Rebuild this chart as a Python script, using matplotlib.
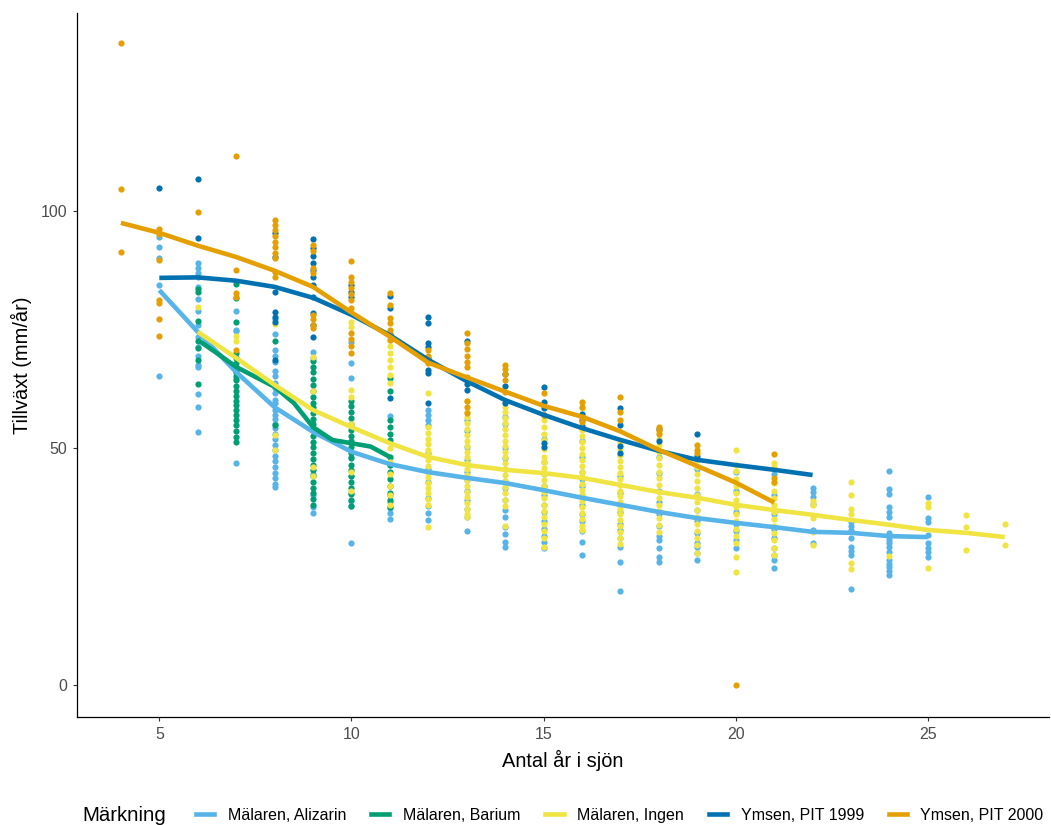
import matplotlib
matplotlib.use('Agg')
import matplotlib.pyplot as plt
from matplotlib.lines import Line2D

plt.rcParams['font.family'] = ['Liberation Sans', 'DejaVu Sans']

# grupper och färger
groups = ['Mälaren, Alizarin', 'Mälaren, Barium', 'Mälaren, Ingen', 'Ymsen, PIT 1999', 'Ymsen, PIT 2000']
colors = ['#56B4E9', '#009E73', '#F0E442', '#0072B2', '#E69F00']

# punkter: antal år i sjön -> tillväxt (mm/år)
alizarin_pts = {
    5: [94.6, 92.4, 90.0, 84.4, 65.2],
    6: [89.0, 88.0, 87.0, 86.0, 84.0, 81.5, 79.0, 76.0, 73.4, 71.3, 69.5, 67.5, 67.1, 61.4, 58.6, 53.4],
    7: [79.0, 75.0, 74.7, 66.0, 64.5, 46.9],
    8: [77.2, 74.1, 70.7, 69.4, 68.2, 66.3, 65.1, 63.8, 62.6, 61.5, 60.2, 59.4, 58.1, 57.0, 56.2, 55.1,
        54.3, 52.9, 51.8, 50.7, 49.5, 48.4, 47.3, 46.0, 44.8, 43.6, 42.5, 41.8],
    9: [70.2, 68.9, 44.5, 40.1, 37.6, 36.3],
    10: [72.4, 67.9, 64.8, 48.0, 44.0, 40.5, 38.9, 37.8, 30.0],
    11: [56.8, 46.5, 40.0, 38.6, 37.4, 36.2, 35.0],
    12: [58.0, 57.0, 56.0, 54.8, 49.0, 45.6, 42.8, 39.5, 37.8, 36.3, 34.8],
    13: [56.0, 53.5, 50.2, 47.5, 45.0, 43.2, 41.0, 39.0, 37.2, 35.4, 32.5],
    14: [56.5, 55.0, 50.0, 47.8, 45.5, 43.0, 41.5, 39.0, 37.0, 35.5, 33.4, 31.8, 30.2, 29.1],
    15: [52.0, 47.0, 44.5, 42.0, 40.0, 38.0, 36.5, 34.6, 33.0, 31.5, 30.2, 29.0],
    16: [51.5, 48.0, 45.0, 43.5, 42.0, 40.0, 38.0, 36.0, 34.5, 32.5, 30.2, 27.4],
    17: [48.5, 44.0, 40.5, 38.0, 36.4, 34.0, 32.7, 31.0, 29.1, 25.9, 19.8],
    18: [48.0, 44.8, 41.0, 38.5, 36.0, 33.5, 31.5, 30.5, 29.0, 27.0, 25.9],
    19: [45.5, 40.2, 37.0, 34.5, 32.0, 30.0, 29.1, 27.8, 26.4],
    20: [45.0, 41.0, 36.5, 34.0, 32.5, 30.5, 29.0],
    21: [44.5, 40.0, 36.0, 33.0, 31.0, 29.0, 27.5, 26.4, 24.7],
    22: [41.6, 40.7, 39.6, 38.2, 32.7, 30.0],
    23: [34.4, 33.5, 32.7, 31.0, 29.1, 28.3, 27.4, 20.3],
    24: [45.2, 41.3, 40.3, 37.6, 36.5, 35.4, 32.1, 31.3, 30.5, 29.9, 29.1, 28.0, 26.4, 25.6, 24.8, 24.0, 23.2],
    25: [39.7, 35.2, 34.4, 31.6, 30.0, 29.0, 28.0, 27.0],
}
barium_pts = {
    6: [83.6, 83.0, 76.8, 72.5, 71.0, 68.6, 63.5],
    7: [84.6, 81.6, 76.6, 70.0, 69.0, 68.0, 67.0, 66.0, 65.2, 64.3, 63.0, 62.0, 61.0, 60.0, 59.0, 58.0,
        57.0, 56.0, 54.8, 53.5, 52.3, 51.2],
    8: [72.6, 54.8],
    9: [68.4, 67.0, 66.0, 64.5, 63.2, 62.0, 60.8, 59.5, 58.6, 57.4, 56.2, 55.0, 53.8, 52.5, 51.3, 50.2,
        49.0, 47.6, 46.5, 45.3, 44.0, 42.8, 41.5, 40.4, 39.2, 38.0],
    10: [60.0, 58.8, 57.5, 56.3, 55.0, 53.8, 52.6, 51.5, 50.2, 49.0, 47.8, 46.5, 45.3, 44.0, 42.8, 41.5,
         40.2, 39.0, 37.8],
    11: [64.8, 62.0, 56.0, 54.5, 53.0, 51.7, 48.0, 46.5, 45.0, 43.5, 42.0, 40.5, 39.0, 37.5],
}
ingen_pts = {
    6: [79.7],
    7: [73.6, 72.5],
    8: [76.2, 52.7, 49.6],
    9: [69.3, 62.0, 46.0, 44.0],
    10: [76.6, 75.5, 62.2, 60.8, 55.0, 45.0, 41.0],
    11: [72.8, 71.5, 70.0, 68.5, 67.0, 65.5, 63.7, 50.0, 47.0, 44.5, 42.0, 40.0, 38.0],
    12: [61.6, 54.4, 53.2, 52.0, 50.8, 49.6, 48.5, 47.4, 46.2, 45.0, 43.8, 42.7, 41.5, 40.4, 39.2, 38.0, 33.4],
    13: [60.0, 57.5, 56.5, 55.3, 54.0, 52.8, 51.5, 50.4, 49.2, 48.0, 46.8, 45.6, 44.4, 43.2, 42.0, 40.8,
         39.6, 38.4, 37.2, 36.0, 35.4],
    14: [60.0, 58.7, 57.6, 56.4, 55.2, 54.0, 52.7, 51.5, 50.4, 49.2, 48.0, 46.8, 45.5, 44.2, 43.0, 41.8,
         40.6, 39.0, 37.8, 33.5],
    15: [56.0, 54.5, 53.0, 51.6, 49.8, 48.2, 47.0, 45.8, 44.5, 43.2, 42.0, 40.8, 39.5, 38.0, 36.8, 35.5,
         34.0, 32.5, 31.0, 29.1],
    16: [58.4, 53.8, 52.5, 51.2, 50.0, 48.8, 47.5, 46.2, 45.0, 43.8, 42.5, 41.2, 40.0, 38.8, 37.5, 36.2,
         35.0, 33.6, 32.7],
    17: [51.0, 49.8, 48.5, 47.2, 46.0, 44.8, 43.5, 42.2, 41.0, 39.8, 38.5, 37.2, 36.0, 34.8, 33.5, 32.2,
         31.0, 29.8],
    18: [53.4, 52.0, 50.6, 49.2, 47.8, 46.4, 45.0, 43.6, 42.2, 40.8, 39.4, 38.0, 36.6, 35.2, 33.8, 32.2],
    19: [47.5, 46.0, 44.5, 43.0, 41.5, 40.0, 38.5, 37.0, 35.5, 34.0, 32.5, 31.0, 29.5, 27.8],
    20: [49.6, 46.4, 45.1, 43.5, 42.0, 40.5, 39.0, 37.5, 36.0, 34.5, 33.0, 31.5, 30.0, 27.0, 23.8],
    21: [46.8, 46.0, 42.6, 41.0, 39.5, 38.0, 36.5, 35.0, 33.5, 32.0, 30.5, 29.0, 27.5],
    22: [38.9, 38.0, 35.2, 32.2, 29.5],
    23: [42.8, 40.1, 37.1, 36.0, 25.7, 24.5],
    24: [27.2],
    25: [38.4, 37.6, 24.7],
    26: [35.9, 33.3, 28.5],
    27: [34.0, 29.5],
}
pit1999_pts = {
    5: [104.9],
    6: [106.7, 94.3],
    8: [95.4, 90.3, 83.0, 78.8, 77.7, 76.6, 68.6],
    9: [94.2, 92.2, 90.5, 89.0, 87.5, 86.0, 84.5, 81.9, 78.5, 76.0, 73.4],
    10: [84.5, 83.0, 81.8],
    11: [82.0, 79.5, 74.0, 60.5],
    12: [77.7, 76.4, 72.1, 71.3, 69.0, 66.5, 65.8, 59.5],
    13: [72.5, 64.5, 63.5, 62.2],
    14: [65.6, 63.0, 59.5],
    15: [62.9, 59.7, 58.4, 57.0, 51.0, 50.2],
    16: [57.2, 55.9, 54.6],
    17: [58.4, 54.8, 50.5, 49.0],
    18: [54.0, 51.5],
    19: [53.0, 48.3],
}
pit2000_pts = {
    4: [135.5, 104.6, 91.3],
    5: [96.2, 95.2, 89.6, 81.2, 80.7, 77.2, 73.6],
    6: [99.9],
    7: [111.7, 87.6, 82.7, 81.9, 70.6],
    8: [98.1, 97.0, 96.0, 94.8, 93.5, 92.4, 91.2, 90.0, 87.1, 86.1],
    9: [92.8, 91.5, 88.0, 86.9, 78.0, 77.2, 76.0, 75.3],
    10: [89.5, 86.1, 85.0, 83.8, 82.5, 81.2, 79.5, 74.3, 73.0, 71.5, 70.0],
    11: [82.7, 80.2, 77.5, 76.3, 75.0, 73.8, 72.8],
    12: [70.7, 69.5, 68.8, 67.9],
    13: [74.2, 72.1, 70.8, 69.5, 68.2, 67.0, 65.0, 60.0, 58.6, 57.4],
    14: [67.5, 66.6, 65.6, 64.3, 61.8],
    15: [61.6, 57.0],
    16: [59.7, 58.6, 56.5, 55.5],
    17: [60.8, 57.5, 56.0],
    18: [54.4, 53.8, 53.0],
    19: [50.6, 49.6, 49.0],
    20: [0.0],
    21: [48.7, 43.7, 42.8],
}

# utjämnade kurvor (avlästa)
alizarin_sx = list(range(5, 26))
alizarin_sy = [83.3, 74.5, 66.0, 58.6, 53.4, 49.2, 46.6, 44.9, 43.7, 42.6, 41.1,
               39.5, 38.0, 36.5, 35.2, 34.2, 33.3, 32.3, 32.1, 31.4, 31.2]
barium_sx = [6, 6.5, 7, 7.5, 8, 8.5, 9, 9.5, 10, 10.5, 11]
barium_sy = [72.8, 70.0, 67.1, 65.0, 62.9, 59.5, 54.4, 51.7, 51.0, 50.3, 48.1]
ingen_sx = list(range(6, 28))
ingen_sy = [74.5, 69.0, 63.3, 58.0, 54.4, 51.0, 48.1, 46.4, 45.4, 44.7, 43.7,
            42.2, 40.7, 39.5, 38.0, 36.9, 35.9, 34.8, 33.8, 32.7, 32.1, 31.2]
pit1999_sx = list(range(5, 23))
pit1999_sy = [85.9, 86.0, 85.3, 84.0, 81.7, 78.1, 73.8, 68.6, 64.1, 60.1, 57.0,
              54.2, 51.7, 49.4, 47.5, 46.4, 45.4, 44.3]
pit2000_sx = list(range(4, 22))
pit2000_sy = [97.5, 95.4, 92.7, 90.3, 87.4, 84.0, 78.6, 73.5, 68.0, 64.9, 61.9,
              58.9, 56.6, 53.5, 49.6, 46.2, 42.7, 38.5]

all_pts = [alizarin_pts, barium_pts, ingen_pts, pit1999_pts, pit2000_pts]
all_smooth = [(alizarin_sx, alizarin_sy), (barium_sx, barium_sy), (ingen_sx, ingen_sy),
              (pit1999_sx, pit1999_sy), (pit2000_sx, pit2000_sy)]

fig = plt.figure(figsize=(10.51, 8.25), dpi=100)
ax = fig.add_axes([0.073, 0.131, 0.925, 0.853])

for pts, col in zip(all_pts, colors):
    xs, ys = [], []
    for x, vals in pts.items():
        xs += [x] * len(vals)
        ys += vals
    ax.scatter(xs, ys, s=20, color=col, linewidths=0, zorder=2)

for (sx, sy), col in zip(all_smooth, colors):
    ax.plot(sx, sy, color=col, lw=3.3, solid_capstyle='butt', solid_joinstyle='round', zorder=3)

ax.set_xlim(2.85, 28.15)
ax.set_ylim(-6.75, 141.75)
ax.set_xticks([5, 10, 15, 20, 25])
ax.set_yticks([0, 50, 100])
for side in ['top', 'right']:
    ax.spines[side].set_visible(False)
for side in ['left', 'bottom']:
    ax.spines[side].set_color('black')
    ax.spines[side].set_linewidth(0.9)
ax.tick_params(colors='#333333', labelcolor='#4D4D4D', labelsize=11.5, length=3, width=0.8, pad=4)
ax.set_xlabel('Antal år i sjön', fontsize=14.4, labelpad=6)
ax.set_ylabel('Tillväxt (mm/år)', fontsize=14.4, labelpad=6)

handles = [Line2D([0], [0], color=c, lw=3.3) for c in colors]
fig.text(82 / 1051, 0.012, 'Märkning', fontsize=14.7, va='center', ha='left')
fig.legend(handles, groups, loc='center left', bbox_to_anchor=(196 / 1051, 0.012), ncol=5,
           frameon=False, fontsize=11.5, handlelength=1.15, handletextpad=0.85,
           columnspacing=1.55, borderpad=0, borderaxespad=0)

fig.savefig('out.png', dpi=100)
